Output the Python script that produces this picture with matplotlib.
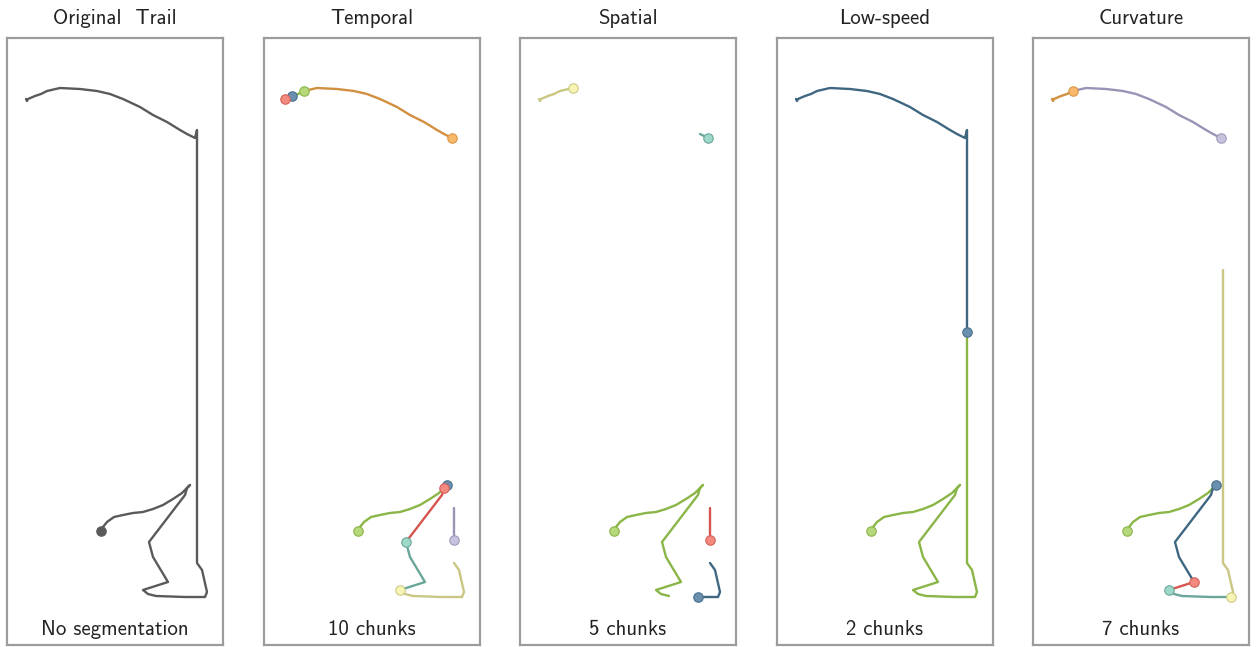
import matplotlib
matplotlib.use("Agg")
import matplotlib.pyplot as plt

# ---- data (trail coordinates; x relative to panel, y downward) ----
PATH_X = [94, 96, 100, 107, 116, 126, 136, 146, 156, 166, 175, 183, 180, 178, 142, 146,
          161, 136, 141, 149, 178, 198, 200, 195, 190, 190, 190, 190, 190, 190, 190, 188,
          180, 173, 160, 146, 133, 116, 103, 90, 73, 53, 40, 34, 28, 21, 20, 19]
PATH_Y = [531, 527, 522, 517, 515, 513, 512, 509, 505, 499, 493, 485, 488, 495, 542, 557,
          582, 590, 594, 596, 597, 597, 592, 570, 563, 540, 520, 508, 332, 270, 130, 138,
          134, 130, 122, 115, 107, 99, 94, 91, 89, 88, 91, 94, 96, 99, 101, 99]

TITLES = ["Original Trail", "Temporal", "Spatial", "Low-speed", "Curvature"]
LABELS = ["No segmentation", "10 chunks", "5 chunks", "2 chunks", "7 chunks"]

# chunks: (start index, end index, colour key)
CHUNKS_ORIGINAL = [(0, 47, "gray")]
CHUNKS_TEMPORAL = [(0, 11, "green"), (11, 12, "blue"), (12, 14, "red"), (14, 17, "teal"),
                   (17, 24, "yellow"), (25, 27, "purple"), (31, 42, "orange"),
                   (42, 44, "green"), (44, 45, "blue"), (45, 47, "red")]
CHUNKS_SPATIAL = [(0, 19, "green"), (20, 24, "blue"), (25, 27, "red"), (31, 32, "teal"),
                  (41, 47, "yellow")]
CHUNKS_LOWSPEED = [(0, 28, "green"), (28, 47, "blue")]
CHUNKS_CURVATURE = [(0, 11, "green"), (11, 16, "blue"), (16, 17, "red"), (17, 21, "teal"),
                    (21, 29, "yellow"), (31, 42, "purple"), (42, 47, "orange")]
ALL_CHUNKS = [CHUNKS_ORIGINAL, CHUNKS_TEMPORAL, CHUNKS_SPATIAL, CHUNKS_LOWSPEED, CHUNKS_CURVATURE]

# ---- styles ----
LINE_COL = {"gray": "#5a5a5a", "green": "#8ab547", "blue": "#3f6782", "red": "#d6554f",
            "teal": "#6aa79a", "yellow": "#c9c783", "purple": "#9993b5", "orange": "#d18f3f"}
FILL_COL = {"gray": "#5a5a5a", "green": "#b5d87a", "blue": "#6a90ae", "red": "#f28a80",
            "teal": "#9ed8c8", "yellow": "#f8f4b4", "purple": "#c6c3df", "orange": "#f9b86a"}
EDGE_COL = {"gray": "#5a5a5a", "green": "#8ab547", "blue": "#47708d", "red": "#d6605a",
            "teal": "#6aa79a", "yellow": "#cdca84", "purple": "#9f9abb", "orange": "#d9974a"}

W, H = 1258, 647
PANEL_LEFT = [7, 264, 520, 777, 1033]
PANEL_W = 216
PANEL_TOP, PANEL_BOT = 38, 645
FONT = ["cmss10", "DejaVu Sans"]

fig = plt.figure(figsize=(W / 100, H / 100), dpi=100)
fig.patch.set_facecolor("white")

for i, chunks in enumerate(ALL_CHUNKS):
    ax = fig.add_axes([PANEL_LEFT[i] / W, (H - PANEL_BOT) / H,
                       PANEL_W / W, (PANEL_BOT - PANEL_TOP) / H])
    ax.set_xlim(0, PANEL_W)
    ax.set_ylim(PANEL_BOT, PANEL_TOP)
    ax.set_xticks([])
    ax.set_yticks([])
    for s in ax.spines.values():
        s.set_color("#9c9c9c")
        s.set_linewidth(1.6)
    for (a, b, c) in chunks:
        ax.plot(PATH_X[a:b + 1], PATH_Y[a:b + 1], color=LINE_COL[c], lw=1.7,
                solid_capstyle="round", solid_joinstyle="round", zorder=2)
    for (a, b, c) in chunks:
        ax.plot([PATH_X[a]], [PATH_Y[a]], "o", ms=6.8, mfc=FILL_COL[c],
                mec=EDGE_COL[c], mew=0.8, zorder=3)
    ax.text(0.5, 0.026, LABELS[i], transform=ax.transAxes, ha="center", va="center",
            fontsize=15, color="#222222", family=FONT)
    title = TITLES[i].replace(" ", "  ") if i == 0 else TITLES[i]
    fig.text((PANEL_LEFT[i] + PANEL_W / 2) / W, 1 - 18.5 / H, title, ha="center",
             va="center", fontsize=15, color="#222222", family=FONT)

fig.savefig("out.png", dpi=100, facecolor="white")
